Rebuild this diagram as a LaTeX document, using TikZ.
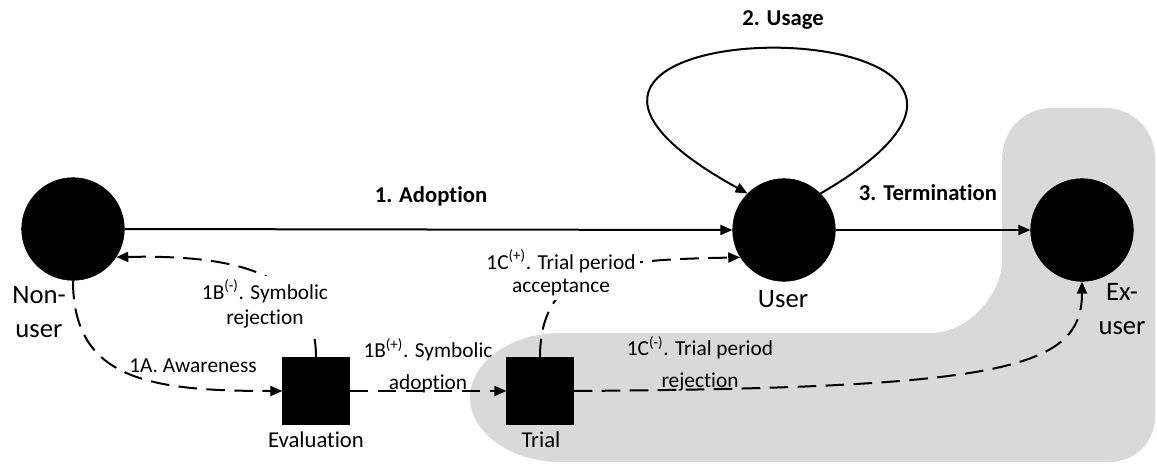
\documentclass[tikz,border=0pt]{standalone}
\usepackage{fontspec}
\setmainfont[Ligatures={NoCommon}]{Carlito}
\usetikzlibrary{arrows.meta}
\definecolor{regiongray}{RGB}{217,217,217}

\begin{document}
\begin{tikzpicture}[x=0.75pt,y=0.75pt,yscale=-1,xscale=1,
  usernode/.style={circle,fill=black,draw=black,minimum size=77pt,inner sep=0pt},
  stagebox/.style={rectangle,fill=black,draw=black,minimum size=50pt,inner sep=0pt},
  flow/.style={line width=1.5pt,-{Triangle[length=9pt,width=7.5pt]}},
  trans/.style={flow,dash pattern=on 14pt off 7pt},
  lbl/.style={inner sep=0.75pt,align=center,font=\fontsize{16}{19}\selectfont},
  ttl/.style={inner sep=0.75pt,font=\fontsize{17}{20}\selectfont\bfseries},
  bigtxt/.style={inner sep=0.75pt,align=center,font=\fontsize{20}{25}\selectfont}]
\useasboundingbox (0,0) rectangle (1157,464);

%Shape: Region of trial and ex-user
\fill [regiongray] (560,333) -- (930,333) .. controls (970,333) and (1002,293) .. (1002,261)
  -- (1002,160) .. controls (1002,131) and (1023,108) .. (1052,108)
  -- (1105,108) .. controls (1133,108) and (1155,130) .. (1155,158)
  -- (1155,417) .. controls (1155,442) and (1135,462) .. (1110,462)
  -- (560,462) .. controls (510,462) and (470,432) .. (470,397.5)
  .. controls (470,363) and (510,333) .. (560,333) -- cycle ;

%Shape: Circles
\node [usernode] (nonuser) at (73,229) {};
\node [usernode] (user) at (784,230) {};
\node [usernode] (exuser) at (1082,230) {};
%Shape: Squares
\node [stagebox] (evalbox) at (316,391) {};
\node [stagebox] (trialbox) at (540,391) {};

%Straight Lines
\draw [flow] (nonuser.east) -- (user.west) ;
\draw [flow] (user.east) -- (exuser.west) ;
%Curve: usage loop
\draw [flow] (user.45) .. controls (1153,0) and (397,0) .. (user.135) ;
%Curves: dashed transitions
\draw [trans] (nonuser.south) .. controls (73,380) and (150,391) .. (evalbox.west) ;
\draw [trans] (evalbox.north) .. controls (316,270) and (230,255) .. (nonuser.-33) ;
\draw [trans] (evalbox.east) -- (trialbox.west) ;
\draw [trans] (trialbox.north) .. controls (540,262) and (620,260) .. (user.212) ;
\draw [trans] (trialbox.east) .. controls (1000,388) and (1082,370) .. (exuser.south) ;

% Text Node
\node [ttl] (adoptlbl) at (431,196) {1. Adoption};
% Text Node
\node [ttl] (usagelbl) at (783,20) {2. Usage};
% Text Node
\node [ttl] (termlbl) at (928,193) {3. Termination};
% Text Node
\node [bigtxt] (nonusertxt) at (39,312) {Non-\\user};
% Text Node
\node [bigtxt] (usertxt) at (783,299) {User};
% Text Node
\node [bigtxt] (exusertxt) at (1122,309) {Ex-\\user};
% Text Node
\node [lbl,font=\fontsize{17}{20}\selectfont] (evaltxt) at (316,440) {Evaluation};
% Text Node
\node [lbl,font=\fontsize{17}{20}\selectfont] (trialtxt) at (541,440) {Trial};
% Text Node
\node [lbl] (awarelbl) at (193,366) {1A. Awareness};
% Text Node
\node [lbl,fill=white,inner sep=3pt,font=\fontsize{16}{18.75}\selectfont] (rejectlbl) at (265,304) {1B\textsuperscript{(-)}. Symbolic\\rejection};
% Text Node
\node [lbl,font=\fontsize{16}{24}\selectfont] (symadoptlbl) at (428,366) {1B\textsuperscript{(+)}. Symbolic\\adoption};
% Text Node
\node [lbl,fill=white,inner sep=3pt,font=\fontsize{16}{17.5}\selectfont] (acceptlbl) at (561,273) {1C\textsuperscript{(+)}. Trial period\\acceptance};
% Text Node
\node [lbl,font=\fontsize{16}{24}\selectfont] (trialrejlbl) at (700,364) {1C\textsuperscript{(-)}. Trial period\\rejection};

\end{tikzpicture}
\end{document}
